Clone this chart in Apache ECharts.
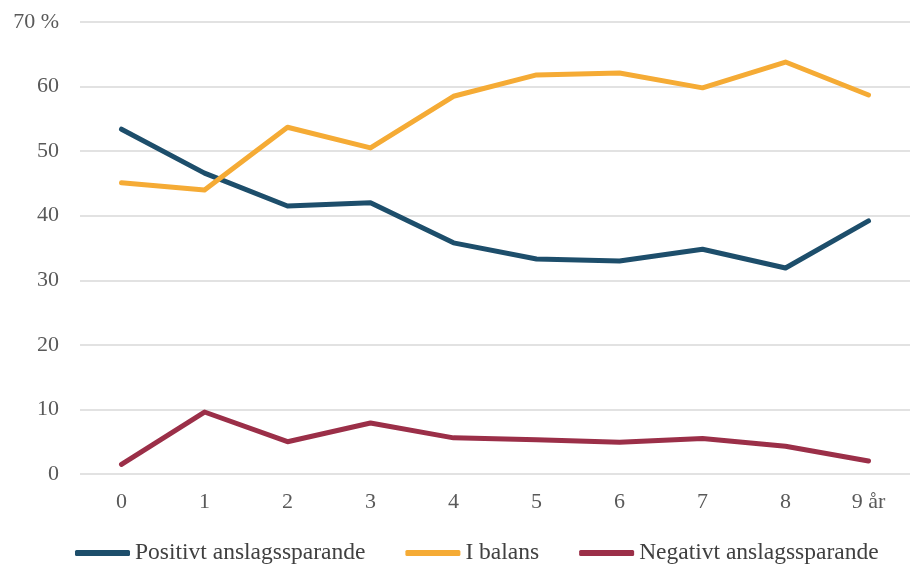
<!DOCTYPE html>
<html><head><meta charset="utf-8">
<script src="https://cdn.jsdelivr.net/npm/echarts@6/dist/echarts.min.js"></script>
<style>html,body{margin:0;padding:0;background:#fff}#c{width:910px;height:566px}</style>
</head><body><div id="c"></div>
<script>
var categories = ['0','1','2','3','4','5','6','7','8','9'];
var positivt = [53.4, 46.6, 41.5, 42.0, 35.8, 33.3, 33.0, 34.8, 31.9, 39.2];
var iBalans = [45.1, 44.0, 53.7, 50.5, 58.5, 61.8, 62.1, 59.8, 63.8, 58.7];
var negativt = [1.5, 9.6, 5.0, 7.9, 5.6, 5.3, 4.9, 5.5, 4.3, 2.0];
var seriesNames = ['Positivt anslagssparande', 'I balans', 'Negativt anslagssparande'];
var colors = ['#1d4e6b', '#f5ab35', '#9b2f48'];

var font = '"Liberation Serif", "DejaVu Serif", serif';
var chart = echarts.init(document.getElementById('c'));
function mk(name, data, color) {
  return {name: name, type: 'line', data: data, symbol: 'none', smooth: false,
    lineStyle: {width: 5, color: color, cap: 'round', join: 'round'}, itemStyle: {color: color}};
}
chart.setOption({
  animation: false,
  grid: {left: 80, top: 22, width: 847, bottom: 92, containLabel: false},
  xAxis: {type: 'category', data: categories, boundaryGap: true,
    axisLine: {show: false}, axisTick: {show: false},
    axisLabel: {color: '#595959', fontFamily: font, fontSize: 22, margin: 17,
      formatter: function (v) { return v === '9' ? '9 år' : v; }},
    splitLine: {show: false}},
  yAxis: {type: 'value', min: 0, max: 70, interval: 10,
    axisLine: {show: false}, axisTick: {show: false},
    axisLabel: {color: '#595959', fontFamily: font, fontSize: 22, margin: 21,
      formatter: function (v) { return v === 70 ? '70 %' : v; }},
    splitLine: {lineStyle: {color: '#d9d9d9', width: 1.5}}},
  legend: {bottom: -4, left: 70, itemWidth: 55, itemHeight: 6, itemGap: 40,
    icon: 'roundRect',
    textStyle: {color: '#404040', fontFamily: font, fontSize: 23.5, padding: [0,0,0,0]},
    data: seriesNames},
  series: [mk(seriesNames[0], positivt, colors[0]), mk(seriesNames[1], iBalans, colors[1]), mk(seriesNames[2], negativt, colors[2])]
});
</script></body></html>
